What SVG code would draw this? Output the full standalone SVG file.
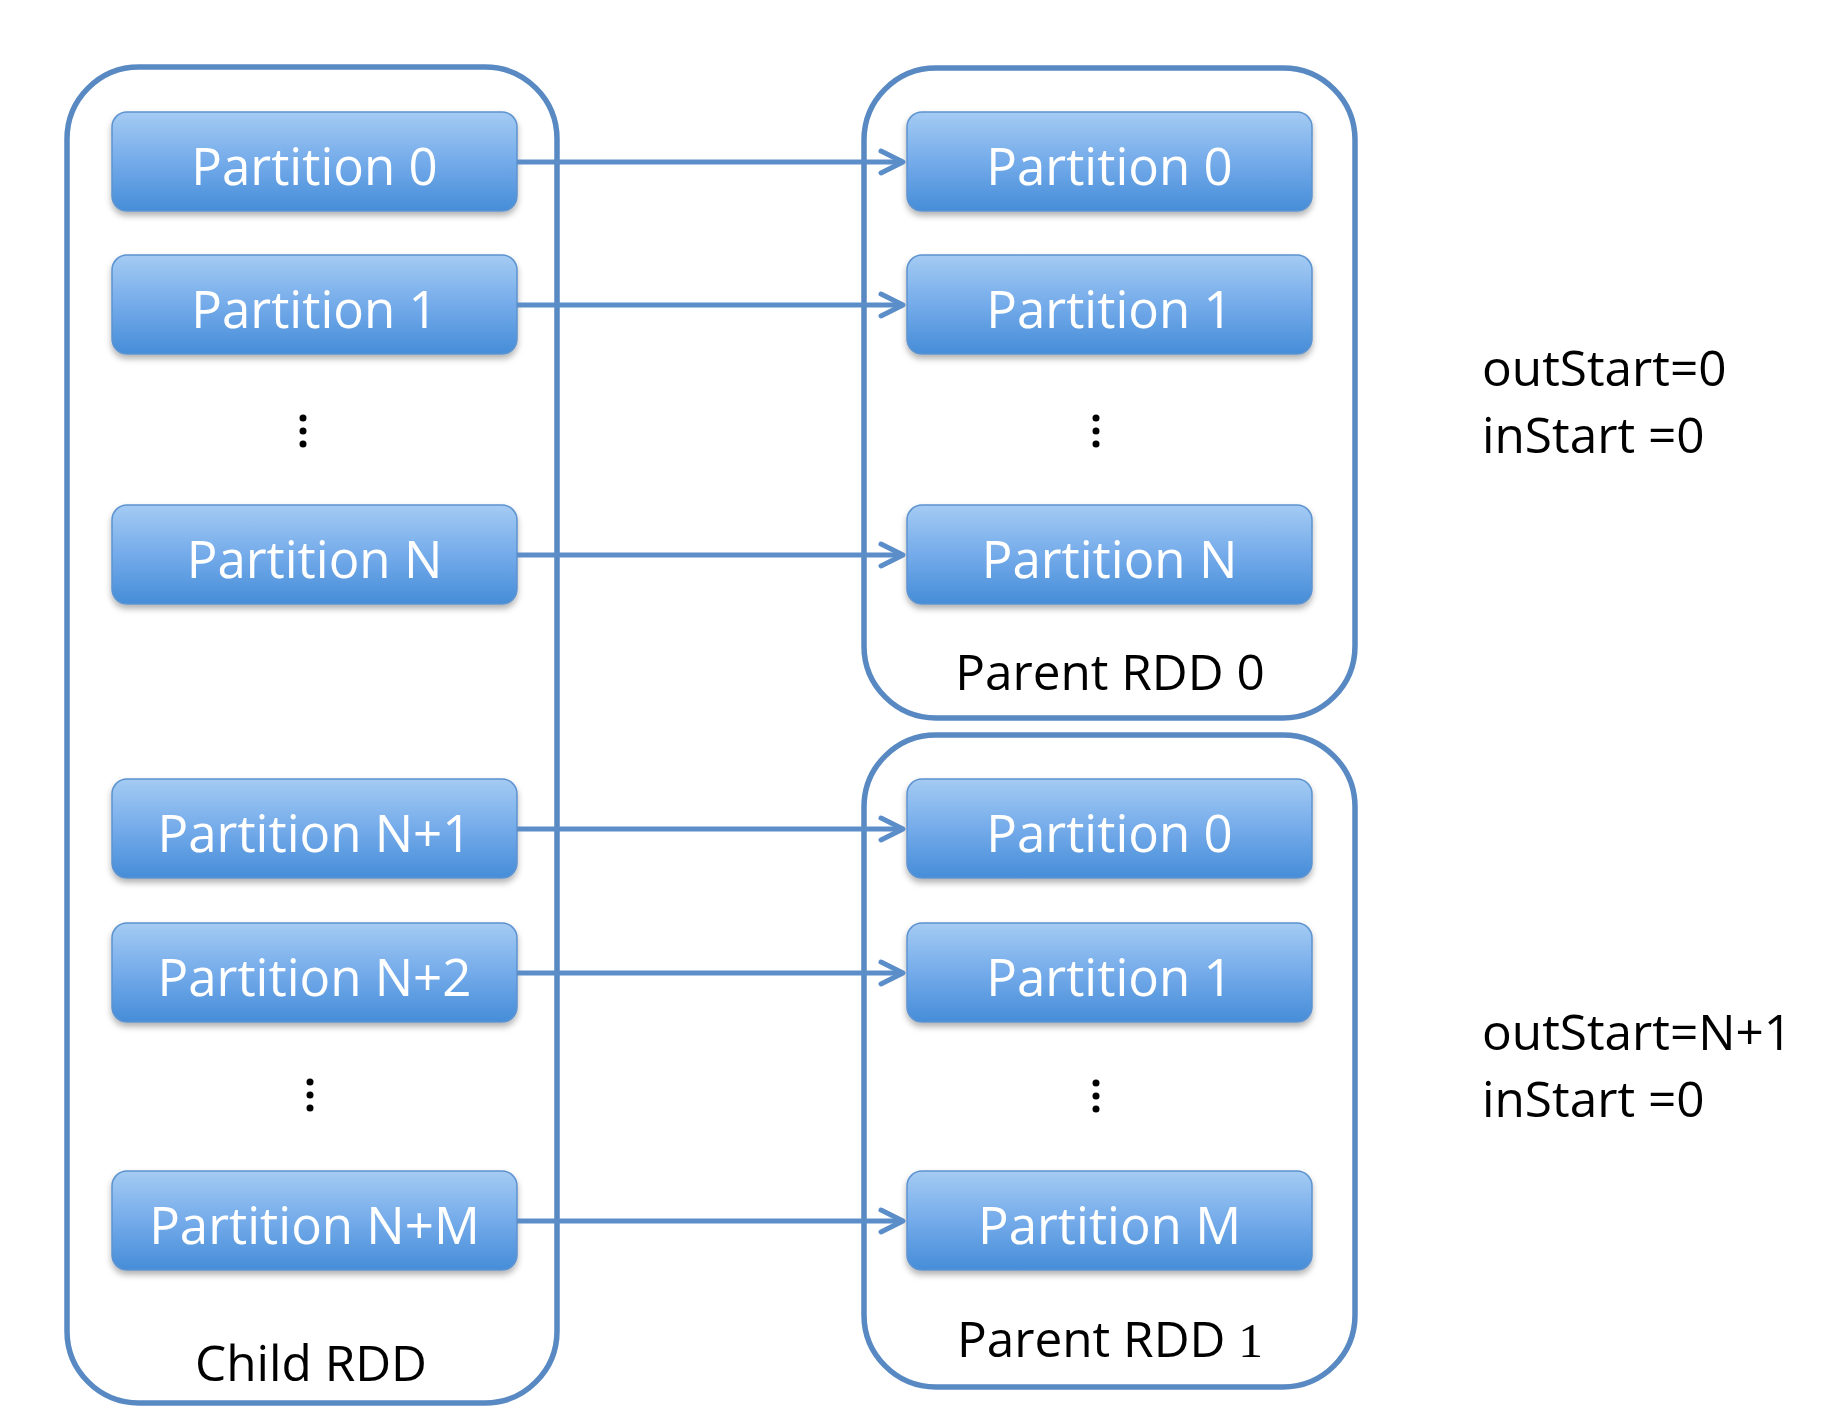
<svg xmlns="http://www.w3.org/2000/svg" width="1836" height="1406" viewBox="0 0 1836 1406">
<defs>
<linearGradient id="boxGrad" x1="0" y1="0" x2="0" y2="1">
<stop offset="0" stop-color="#a4cbf3"/>
<stop offset="0.5" stop-color="#74abea"/>
<stop offset="1" stop-color="#468dd8"/>
</linearGradient>
<filter id="shadow" x="-10%" y="-20%" width="120%" height="150%">
<feDropShadow dx="0" dy="4" stdDeviation="3" flood-color="#000" flood-opacity="0.3"/>
</filter>
<marker id="arrow" markerUnits="userSpaceOnUse" markerWidth="40" markerHeight="40" viewBox="-30 -20 40 40" refX="0" refY="0" orient="auto">
<path d="M -22 -11 L 0 0 L -22 11" fill="none" stroke="#5b8ec8" stroke-width="5" stroke-linecap="round" stroke-linejoin="round"/>
</marker>
</defs>
<style>
.container{fill:none;stroke:#5889c2;stroke-width:5.5}
.box{fill:url(#boxGrad);stroke:#5d93cf;stroke-width:1.5;filter:url(#shadow)}
.btxt{font-family:"Open Sans","Noto Sans",sans-serif;font-size:51px;fill:#ffffff;text-anchor:middle}
.lbl{font-family:"Open Sans","Noto Sans",sans-serif;font-size:49.5px;fill:#000000}
.ctr{text-anchor:middle}
.dot{fill:#000000}
.conn{stroke:#5b8ec8;stroke-width:5;fill:none;marker-end:url(#arrow)}
</style>
<rect width="1836" height="1406" fill="#ffffff"/>

<g id="child-rdd">
<rect class="container" x="67" y="67" width="490" height="1336" rx="72" ry="72"/>
<text class="lbl ctr" x="311" y="1381">Child RDD</text>
</g>
<g id="parent-rdd-0">
<rect class="container" x="864" y="68" width="491" height="650" rx="72" ry="72"/>
<text class="lbl ctr" x="1110" y="690">Parent RDD 0</text>
</g>
<g id="parent-rdd-1">
<rect class="container" x="864" y="735" width="491" height="652" rx="72" ry="72"/>
<text class="lbl ctr" x="1110" y="1357">Parent RDD <tspan font-family="'Liberation Serif',serif">1</tspan></text>
</g>

<g id="child-p0"><rect class="box" x="112" y="112" width="405" height="99" rx="15"/><text class="btxt" x="314.5" y="185">Partition 0</text></g>
<g id="child-p1"><rect class="box" x="112" y="255" width="405" height="99" rx="15"/><text class="btxt" x="314.5" y="328">Partition 1</text></g>
<g id="child-dots1"><circle class="dot" cx="303" cy="418" r="3.5"/><circle class="dot" cx="303" cy="431" r="3.5"/><circle class="dot" cx="303" cy="444" r="3.5"/></g>
<g id="child-pN"><rect class="box" x="112" y="505" width="405" height="99" rx="15"/><text class="btxt" x="314.5" y="578">Partition N</text></g>
<g id="child-pN1"><rect class="box" x="112" y="779" width="405" height="99" rx="15"/><text class="btxt" x="314.5" y="852">Partition N+1</text></g>
<g id="child-pN2"><rect class="box" x="112" y="923" width="405" height="99" rx="15"/><text class="btxt" x="314.5" y="996">Partition N+2</text></g>
<g id="child-dots2"><circle class="dot" cx="310" cy="1082" r="3.5"/><circle class="dot" cx="310" cy="1095" r="3.5"/><circle class="dot" cx="310" cy="1108" r="3.5"/></g>
<g id="child-pNM"><rect class="box" x="112" y="1171" width="405" height="99" rx="15"/><text class="btxt" x="314.5" y="1244">Partition N+M</text></g>

<g id="p0-p0"><rect class="box" x="907" y="112" width="405" height="99" rx="15"/><text class="btxt" x="1109.5" y="185">Partition 0</text></g>
<g id="p0-p1"><rect class="box" x="907" y="255" width="405" height="99" rx="15"/><text class="btxt" x="1109.5" y="328">Partition 1</text></g>
<g id="p0-dots"><circle class="dot" cx="1096" cy="418" r="3.5"/><circle class="dot" cx="1096" cy="431" r="3.5"/><circle class="dot" cx="1096" cy="444" r="3.5"/></g>
<g id="p0-pN"><rect class="box" x="907" y="505" width="405" height="99" rx="15"/><text class="btxt" x="1109.5" y="578">Partition N</text></g>
<g id="p1-p0"><rect class="box" x="907" y="779" width="405" height="99" rx="15"/><text class="btxt" x="1109.5" y="852">Partition 0</text></g>
<g id="p1-p1"><rect class="box" x="907" y="923" width="405" height="99" rx="15"/><text class="btxt" x="1109.5" y="996">Partition 1</text></g>
<g id="p1-dots"><circle class="dot" cx="1096" cy="1083" r="3.5"/><circle class="dot" cx="1096" cy="1096" r="3.5"/><circle class="dot" cx="1096" cy="1109" r="3.5"/></g>
<g id="p1-pM"><rect class="box" x="907" y="1171" width="405" height="99" rx="15"/><text class="btxt" x="1109.5" y="1244">Partition M</text></g>

<g id="connectors">
<line class="conn" x1="517" y1="162" x2="903" y2="162"/>
<line class="conn" x1="517" y1="305" x2="903" y2="305"/>
<line class="conn" x1="517" y1="555" x2="903" y2="555"/>
<line class="conn" x1="517" y1="829" x2="903" y2="829"/>
<line class="conn" x1="517" y1="973" x2="903" y2="973"/>
<line class="conn" x1="517" y1="1221" x2="903" y2="1221"/>
</g>

<g id="note-0">
<text class="lbl" x="1482" y="386">outStart=0</text>
<text class="lbl" x="1482" y="453">inStart =0</text>
</g>
<g id="note-1">
<text class="lbl" x="1482" y="1050">outStart=N+1</text>
<text class="lbl" x="1482" y="1117">inStart =0</text>
</g>
</svg>
